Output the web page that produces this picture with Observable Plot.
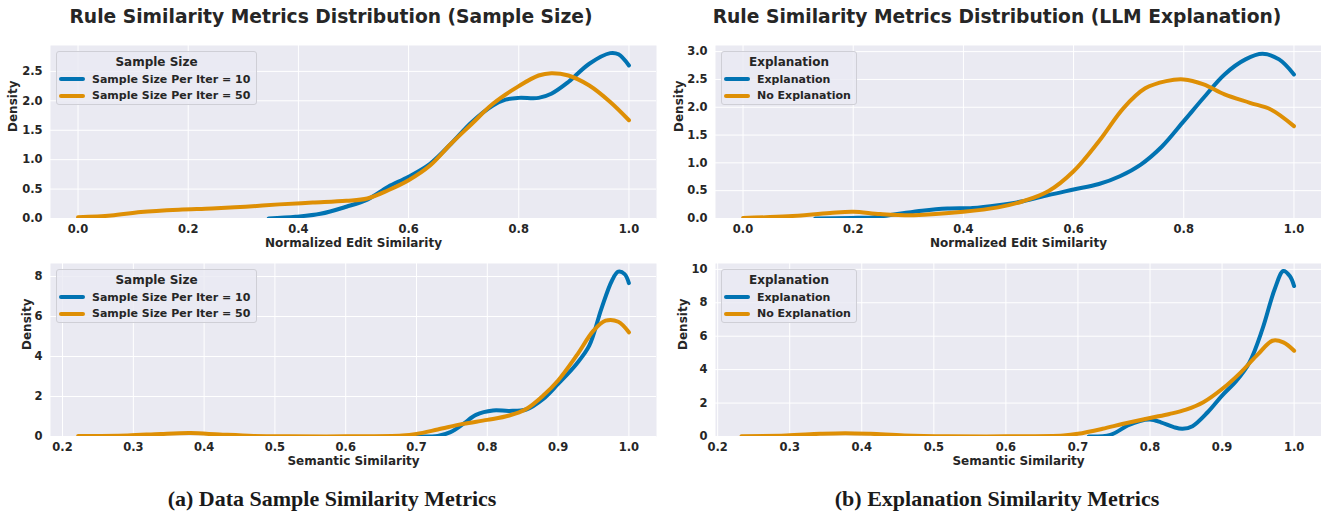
<!DOCTYPE html>
<html>
<head>
<meta charset="utf-8">
<script src="https://cdn.jsdelivr.net/npm/d3@7"></script>
<script src="https://cdn.jsdelivr.net/npm/@observablehq/plot@0.6"></script>
<style>
  body { margin: 0; background: #ffffff; }
  #root { position: relative; width: 1321px; height: 516px; overflow: hidden; background: #fff; }
  .panel { position: absolute; }
  .title { position: absolute; font: bold 18.7px "DejaVu Sans"; color: #262626; white-space: nowrap; transform: translateX(-50%); }
  .caption { position: absolute; font: bold 22px "Liberation Serif"; color: #1a1a1a; white-space: nowrap; transform: translateX(-50%); }
  .legend { position: absolute; background: rgba(234,234,242,0.8); border: 1px solid #cfcfd6; border-radius: 3px; box-sizing: border-box; height: 54px; font: bold 11px "DejaVu Sans"; color: #262626; padding: 1px 0 0 0; white-space: nowrap; }
  .legend .lt { text-align: center; font-size: 12px; height: 18px; line-height: 18px; }
  .legend .row { display: flex; align-items: center; height: 16.5px; }
  .legend .sw { width: 26px; height: 4px; border-radius: 2px; margin: 0 7px 0 2px; flex: none; }
</style>
</head>
<body>
<div id="root"></div>
<script>
// ---------- data ----------
const seriesSize = ["Sample Size Per Iter = 10", "Sample Size Per Iter = 50"];
const seriesExpl = ["Explanation", "No Explanation"];
const colors = ["#0173b2", "#de8f05"];

// Normalized Edit Similarity — sample size
const editSize10X = [0.346,0.395,0.44,0.487,0.525,0.563,0.6,0.639,0.677,0.715,0.753,0.776,0.8,0.836,0.859,0.89,0.928,0.966,0.981,1.0];
const editSize10Y = [0,0.03,0.08,0.2,0.32,0.54,0.71,0.93,1.27,1.64,1.92,2.02,2.05,2.05,2.12,2.32,2.63,2.81,2.79,2.6];
const editSize50X = [0,0.06,0.114,0.183,0.243,0.304,0.365,0.426,0.487,0.525,0.563,0.6,0.639,0.677,0.715,0.753,0.8,0.836,0.859,0.89,0.928,0.966,1.0];
const editSize50Y = [0.02,0.05,0.11,0.15,0.17,0.2,0.24,0.27,0.3,0.34,0.48,0.65,0.9,1.27,1.61,1.95,2.25,2.43,2.47,2.43,2.26,1.98,1.67];

// Normalized Edit Similarity — explanation
const editExplX = [0.131,0.196,0.234,0.28,0.325,0.371,0.417,0.463,0.508,0.554,0.6,0.646,0.684,0.722,0.76,0.8,0.836,0.874,0.912,0.943,0.973,1.0];
const editExplY = [0,0.01,0.02,0.08,0.14,0.18,0.19,0.24,0.31,0.42,0.52,0.62,0.76,0.97,1.29,1.75,2.17,2.59,2.86,2.96,2.86,2.59];
const editNoExplX = [0,0.082,0.158,0.2,0.249,0.31,0.4,0.463,0.508,0.554,0.6,0.646,0.691,0.73,0.768,0.8,0.836,0.874,0.92,0.958,1.0];
const editNoExplY = [0.01,0.04,0.1,0.12,0.08,0.06,0.12,0.2,0.31,0.49,0.85,1.39,1.99,2.34,2.47,2.5,2.41,2.23,2.08,1.96,1.66];

// Semantic Similarity — sample size
const semSize10X = [0.7,0.73,0.748,0.766,0.784,0.808,0.831,0.855,0.879,0.9,0.926,0.944,0.961,0.976,0.985,0.994,1.0];
const semSize10Y = [0,0.03,0.22,0.63,1.08,1.3,1.28,1.35,1.88,2.63,3.63,4.54,6.37,7.79,8.24,8.12,7.67];
const semSize50X = [0.222,0.292,0.339,0.381,0.422,0.47,0.52,0.6,0.68,0.7,0.73,0.766,0.8,0.831,0.855,0.879,0.9,0.926,0.95,0.967,0.985,1.0];
const semSize50Y = [0.02,0.05,0.13,0.17,0.1,0.03,0.01,0.01,0.05,0.13,0.35,0.63,0.83,1.05,1.38,2.05,2.8,4.04,5.29,5.79,5.74,5.21];

// Semantic Similarity — explanation
const semExplX = [0.715,0.745,0.769,0.786,0.8,0.815,0.833,0.845,0.859,0.88,0.9,0.92,0.938,0.956,0.973,0.985,0.994,1.0];
const semExplY = [0,0.1,0.66,0.93,1.01,0.85,0.56,0.46,0.62,1.45,2.45,3.34,4.43,6.42,8.81,9.9,9.6,9.0];
const semNoExplX = [0.233,0.295,0.342,0.377,0.412,0.459,0.52,0.6,0.68,0.7,0.734,0.763,0.8,0.827,0.85,0.874,0.9,0.926,0.95,0.97,0.985,1.0];
const semNoExplY = [0.02,0.06,0.16,0.2,0.16,0.06,0.01,0.01,0.06,0.16,0.46,0.76,1.11,1.35,1.61,2.05,2.84,3.84,4.93,5.73,5.63,5.13];

// ticks
const ticksEditX = [0, 0.2, 0.4, 0.6, 0.8, 1.0];
const ticksSemX = [0.2, 0.3, 0.4, 0.5, 0.6, 0.7, 0.8, 0.9, 1.0];
const ticksEditSizeY = [0, 0.5, 1.0, 1.5, 2.0, 2.5];
const ticksEditExplY = [0, 0.5, 1.0, 1.5, 2.0, 2.5, 3.0];
const ticksSemSizeY = [0, 2, 4, 6, 8];
const ticksSemExplY = [0, 2, 4, 6, 8, 10];

const titles = ["Rule Similarity Metrics Distribution (Sample Size)", "Rule Similarity Metrics Distribution (LLM Explanation)"];
const captions = ["(a) Data Sample Similarity Metrics", "(b) Explanation Similarity Metrics"];
const legendTitles = ["Sample Size", "Explanation"];

// ---------- build ----------
function rows(names, xs, ys) {
  const out = [];
  names.forEach((n, i) => xs[i].forEach((x, j) => out.push({ series: n, x, y: ys[i][j] })));
  return out;
}

const root = document.getElementById("root");

function panel(cfg) {
  const data = rows(cfg.names, cfg.xs, cfg.ys);
  const chart = Plot.plot({
    width: cfg.width, height: 220,
    marginLeft: cfg.ml, marginRight: cfg.mr, marginTop: 10, marginBottom: 37,
    style: { fontFamily: "DejaVu Sans", fontSize: "11.5px", fontWeight: "bold", color: "#262626", background: "transparent", overflow: "visible" },
    x: { domain: cfg.xDomain },
    y: { domain: cfg.yDomain },
    color: { domain: cfg.names, range: colors },
    marks: [
      Plot.frame({ fill: "#eaeaf2", stroke: null }),
      Plot.gridX(cfg.xTicks, { stroke: "#ffffff", strokeOpacity: 1, strokeWidth: 1 }),
      Plot.gridY(cfg.yTicks, { stroke: "#ffffff", strokeOpacity: 1, strokeWidth: 1 }),
      Plot.axisX(cfg.xTicks, { tickSize: 0, tickPadding: 6, tickFormat: d3.format(".1f"), label: null }),
      Plot.axisY(cfg.yTicks, { tickSize: 0, tickPadding: 8, tickFormat: cfg.yFormat, label: null }),
      Plot.line(data, { x: "x", y: "y", z: "series", stroke: "series", strokeWidth: 4, strokeLinecap: "round", strokeLinejoin: "round", curve: "catmull-rom", clip: true }),
      Plot.text([cfg.xLabel], { frameAnchor: "bottom", dy: 28, fontSize: 12, fontWeight: "bold", fill: "#262626" }),
      Plot.text(["Density"], { frameAnchor: "left", dx: cfg.densityDx, rotate: -90, fontSize: 12, fontWeight: "bold", fill: "#262626" })
    ]
  });
  chart.classList.add("panel");
  chart.style.left = cfg.left + "px";
  chart.style.top = cfg.top + "px";
  root.appendChild(chart);

  const lg = document.createElement("div");
  lg.className = "legend";
  lg.style.left = (cfg.left + cfg.ml + 6) + "px";
  lg.style.top = (cfg.top + 16) + "px";
  lg.style.width = cfg.legendW + "px";
  let html = `<div class="lt">${cfg.legendTitle}</div>`;
  cfg.names.forEach((n, i) => { html += `<div class="row"><div class="sw" style="background:${colors[i]}"></div><span>${n}</span></div>`; });
  lg.innerHTML = html;
  root.appendChild(lg);
}

panel({ left: 0, top: 35, width: 660, ml: 50, mr: 4, names: seriesSize, xs: [editSize10X, editSize50X], ys: [editSize10Y, editSize50Y],
  xDomain: [-0.05, 1.05], yDomain: [0, 2.94], xTicks: ticksEditX, yTicks: ticksEditSizeY, yFormat: d3.format(".1f"),
  xLabel: "Normalized Edit Similarity", densityDx: -37, legendTitle: legendTitles[0], legendW: 201 });
panel({ left: 660, top: 35, width: 661, ml: 55, mr: 0, names: seriesExpl, xs: [editExplX, editNoExplX], ys: [editExplY, editNoExplY],
  xDomain: [-0.05, 1.05], yDomain: [0, 3.11], xTicks: ticksEditX, yTicks: ticksEditExplY, yFormat: d3.format(".1f"),
  xLabel: "Normalized Edit Similarity", densityDx: -36, legendTitle: legendTitles[1], legendW: 136 });
panel({ left: 0, top: 253, width: 660, ml: 50, mr: 4, names: seriesSize, xs: [semSize10X, semSize50X], ys: [semSize10Y, semSize50Y],
  xDomain: [0.183, 1.039], yDomain: [0, 8.65], xTicks: ticksSemX, yTicks: ticksSemSizeY, yFormat: d3.format("d"),
  xLabel: "Semantic Similarity", densityDx: -23, legendTitle: legendTitles[0], legendW: 201 });
panel({ left: 660, top: 253, width: 661, ml: 55, mr: 0, names: seriesExpl, xs: [semExplX, semNoExplX], ys: [semExplY, semNoExplY],
  xDomain: [0.197, 1.038], yDomain: [0, 10.35], xTicks: ticksSemX, yTicks: ticksSemExplY, yFormat: d3.format("d"),
  xLabel: "Semantic Similarity", densityDx: -32, legendTitle: legendTitles[1], legendW: 136 });

[[331, titles[0]], [997, titles[1]]].forEach(([x, t]) => {
  const d = document.createElement("div"); d.className = "title"; d.style.left = x + "px"; d.style.top = "6px"; d.textContent = t; root.appendChild(d);
});
[[332, captions[0]], [997, captions[1]]].forEach(([x, t]) => {
  const d = document.createElement("div"); d.className = "caption"; d.style.left = x + "px"; d.style.top = "486px"; d.textContent = t; root.appendChild(d);
});
</script>
</body>
</html>
